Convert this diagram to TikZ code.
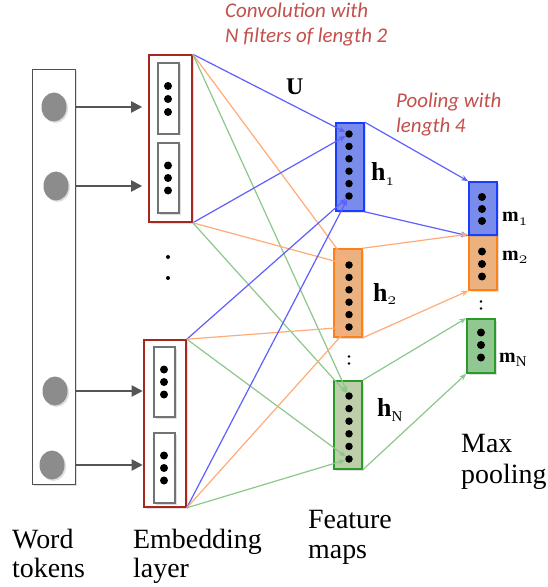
\documentclass[tikz,border=0pt]{standalone}
\usepackage{fontspec}
\setmainfont{Liberation Serif}
\newfontfamily\calibrifont{Carlito}
\usetikzlibrary{arrows.meta,shapes.geometric,shadows}
\definecolor{blueL}{RGB}{95,95,255}
\definecolor{orangeL}{RGB}{255,172,120}
\definecolor{greenL}{RGB}{140,200,140}
\definecolor{blueF}{RGB}{122,140,235}
\definecolor{blueB}{RGB}{25,60,255}
\definecolor{orangeF}{RGB}{235,178,128}
\definecolor{orangeB}{RGB}{255,128,20}
\definecolor{olivF}{RGB}{190,205,170}
\definecolor{greenF}{RGB}{145,200,145}
\definecolor{greenB}{RGB}{40,155,40}
\definecolor{embred}{RGB}{165,40,30}
\definecolor{innergray}{RGB}{115,115,115}
\definecolor{wordgray}{RGB}{80,80,80}
\definecolor{tokgray}{RGB}{140,140,140}
\definecolor{arrgray}{RGB}{85,85,85}
\definecolor{redtext}{RGB}{195,80,75}
\begin{document}
\begin{tikzpicture}[x=1bp,y=-1bp,
  shad/.style={drop shadow={opacity=0.25,shadow xshift=1.5bp,shadow yshift=-1.5bp}},
  wordbox/.style={draw=wordgray,fill=white,line width=1bp,inner sep=0pt,shad},
  tok/.style={ellipse,fill=tokgray,inner sep=0pt,minimum width=25bp,minimum height=29bp,shad},
  tokarrow/.style={draw=arrgray,line width=2bp,-{Triangle[length=11bp,width=11bp]}},
  embbox/.style={draw=embred,fill=white,line width=1.6bp,inner sep=0pt,shad},
  innerbox/.style={draw=innergray,fill=white,line width=1.4bp,inner sep=0pt,shad},
  edot/.style={circle,fill=black,inner sep=0pt,minimum size=8bp},
  fdot/.style={circle,fill=black,inner sep=0pt,minimum size=7.5bp},
  tinydot/.style={circle,fill=black,inner sep=0pt,minimum size=4bp},
  colondot/.style={circle,fill=black,inner sep=0pt,minimum size=2.6bp},
  fmap/.style={line width=1.6bp,inner sep=0pt,minimum width=28bp,shad},
  conn/.style={line width=1.2bp,-{Stealth[length=7bp,width=5.5bp]}},
  redtxt/.style={anchor=base west,inner sep=0pt,text=redtext,font=\calibrifont\itshape\fontsize{21}{21}\selectfont},
  bottxt/.style={anchor=base west,inner sep=0pt,font=\rmfamily\fontsize{28}{28}\selectfont},
  lab/.style={anchor=base west,inner sep=0pt,font=\rmfamily}
]
\fill[white] (0,0) rectangle (548,587);
\useasboundingbox (0,0) rectangle (548,587);

% word tokens
\node[wordbox,minimum width=43bp,minimum height=414bp] (wb) at (53.5,277) {};
\node[tok] (w1) at (54,107) {};
\node[tok] (w2) at (56,186) {};
\node[tok] (w3) at (55,391) {};
\node[tok] (w4) at (52,465) {};

% embedding layer
\node[embbox,minimum width=43bp,minimum height=167bp] (e1) at (170.5,138.5) {};
\node[innerbox,minimum width=21bp,minimum height=71bp] (e1a) at (168.5,98.5) {};
\node[innerbox,minimum width=21bp,minimum height=70bp] (e1b) at (168.5,178) {};
\node[embbox,minimum width=42bp,minimum height=167bp] (e2) at (165,423.5) {};
\node[innerbox,minimum width=21bp,minimum height=70bp] (e2a) at (164.5,382) {};
\node[innerbox,minimum width=21bp,minimum height=70bp] (e2b) at (164.5,468) {};
\foreach \k/\n in {-1/1,0/2,1/3}{
  \node[edot] (e1ad\n) at (168,{99+\k*13}) {};
  \node[edot] (e1bd\n) at (168,{178+\k*12.5}) {};
  \node[edot] (e2ad\n) at (164,{382+\k*12.5}) {};
  \node[edot] (e2bd\n) at (164,{468+\k*12.5}) {};
}
\node[tinydot] (vd1) at (168,257) {};
\node[tinydot] (vd2) at (168,278) {};

% token arrows
\draw[tokarrow] (w1 -| wb.east) -- ([xshift=-6bp]w1 -| e1.west);
\draw[tokarrow] (w2 -| wb.east) -- ([xshift=-6bp]w2 -| e1.west);
\draw[tokarrow] (w3 -| wb.east) -- ([xshift=-0.5bp]w3 -| e2.west);
\draw[tokarrow] (w4 -| wb.east) -- ([xshift=-0.5bp]w4 -| e2.west);

% feature maps
\node[fmap,draw=blueB,fill=blueF,minimum height=88bp] (h1) at (350,167) {};
\node[fmap,draw=orangeB,fill=orangeF,minimum height=88bp] (h2) at (348,293) {};
\node[fmap,draw=greenB,fill=olivF,minimum height=88bp] (hN) at (348,425) {};
\foreach \k in {1,...,6}{
  \node[fdot] (h1d\k) at (349,{134+(\k-1)*12.4}) {};
  \node[fdot] (h2d\k) at (349,{265+(\k-1)*12.4}) {};
  \node[fdot] (hNd\k) at (349,{396+(\k-1)*12.6}) {};
}
\node[colondot] (hc1) at (349,356.5) {};
\node[colondot] (hc2) at (349,363.5) {};

% max pooling
\node[fmap,draw=orangeB,fill=orangeF,minimum height=55bp] (m2) at (483,262.5) {};
\node[fmap,draw=blueB,fill=blueF,minimum height=53bp] (m1) at (483,208.5) {};
\node[fmap,draw=greenB,fill=greenF,minimum height=54bp] (mN) at (481,346) {};
\foreach \k/\n in {-1/1,0/2,1/3}{
  \node[edot] (m1d\n) at (482,{209+\k*12}) {};
  \node[edot] (m2d\n) at (482,{264+\k*12.5}) {};
  \node[edot] (mNd\n) at (481,{345+\k*12.5}) {};
}
\node[colondot] (mc1) at (481,301.5) {};
\node[colondot] (mc2) at (481,308.5) {};

% convolution connectors
\foreach \src in {e1.north east,e1.south east}{
  \draw[conn,blueL] (\src) -- (h1d1);
  \draw[conn,orangeL] (\src) -- (h2d1);
  \draw[conn,greenL] (\src) -- (hNd1);
}
\foreach \src in {e2.north east,e2.south east}{
  \draw[conn,blueL] (\src) -- (h1d6);
  \draw[conn,orangeL] (\src) -- (h2d6);
  \draw[conn,greenL] (\src) -- (hNd6);
}

% pooling connectors
\draw[conn,blueL] (h1.north east) -- (m1.north west);
\draw[conn,blueL] (h1.south east) -- (m1.south west);
\draw[conn,orangeL] (h2.north east) -- (m2.north west);
\draw[conn,orangeL] (h2.south east) -- (m2.south west);
\draw[conn,greenL] (hN.north east) -- (mN.north west);
\draw[conn,greenL] (hN.south east) -- (mN.south west);

% labels
\node[lab,font=\rmfamily\bfseries\fontsize{24}{24}\selectfont] (U) at (286,95) {U};
\node[lab] (lh1) at (371,180) {\fontsize{26}{26}\selectfont\textbf{h}\raisebox{-5bp}{\fontsize{16}{16}\selectfont$\mathnormal{1}$}};
\node[lab] (lh2) at (373,301) {\fontsize{26}{26}\selectfont\textbf{h}\raisebox{-3bp}{\fontsize{17}{17}\selectfont$\mathnormal{2}$}};
\node[lab] (lhN) at (377,416) {\fontsize{26}{26}\selectfont\textbf{h}\raisebox{-5.5bp}{\fontsize{15}{15}\selectfont N}};
\node[lab] (lm1) at (502,221) {\fontsize{20}{20}\selectfont\textbf{m}\raisebox{-4bp}{\fontsize{16}{16}\selectfont$\mathnormal{1}$}};
\node[lab] (lm2) at (502,260) {\fontsize{20}{20}\selectfont\textbf{m}\raisebox{-3bp}{\fontsize{17}{17}\selectfont$\mathnormal{2}$}};
\node[lab] (lmN) at (499,362) {\fontsize{20}{20}\selectfont\textbf{m}\raisebox{-4bp}{\fontsize{15}{15}\selectfont N}};

\node[redtxt] (c1) at (225,18) {Convolution with};
\node[redtxt] (c2) at (225,43) {N filters of length 2};
\node[redtxt] (p1) at (396,108) {Pooling with};
\node[redtxt] (p2) at (396,133) {length 4};

\node[bottxt] (t1) at (12,548) {Word};
\node[bottxt] (t2) at (12,577) {tokens};
\node[bottxt] (t3) at (133,548) {Embedding};
\node[bottxt] (t4) at (133,577) {layer};
\node[bottxt] (t5) at (308,528) {Feature};
\node[bottxt] (t6) at (308,558) {maps};
\node[bottxt] (t7) at (461,452) {Max};
\node[bottxt] (t8) at (461,483) {pooling};
\end{tikzpicture}
\end{document}
